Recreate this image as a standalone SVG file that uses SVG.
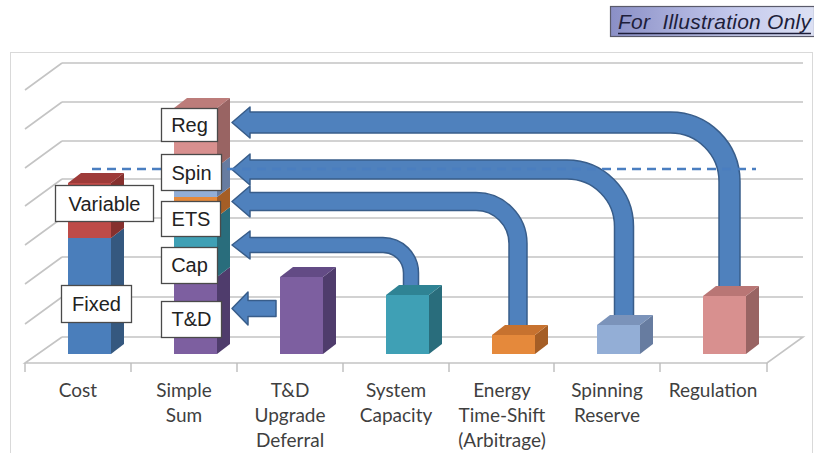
<svg xmlns="http://www.w3.org/2000/svg" width="814" height="453" viewBox="0 0 814 453">
<defs>
<linearGradient id="tagGrad" x1="0" y1="0" x2="1" y2="0">
<stop offset="0" stop-color="#8A8FC6"/>
<stop offset="0.6" stop-color="#C3C8EC"/>
<stop offset="1" stop-color="#DDE1F4"/>
</linearGradient>
</defs>
<style>
.grid{stroke:#C4C4C4;stroke-width:1.6;fill:none}
.tick{stroke:#BDBDBD;stroke-width:1.4}
.arrow{fill:#4F81BD;stroke:#385D8A;stroke-width:1.5;stroke-linejoin:round}
.box{fill:#FFFFFF;stroke:#4A4A4A;stroke-width:1.3}
.btxt{font-family:"Liberation Sans",Arial,sans-serif;font-size:20px;fill:#222;text-anchor:middle}
.ax{font-family:Lato,"Liberation Sans",sans-serif;font-size:19px;fill:#3F3F3F;text-anchor:middle}
.dash{stroke:#4A7EC0;stroke-width:2.4;stroke-dasharray:9 6;fill:none}
</style>
<rect x="0" y="0" width="814" height="453" fill="#FFFFFF"/>
<g id="tag">
<rect x="610.5" y="6.5" width="204" height="30" fill="url(#tagGrad)" stroke="#5A5A6A" stroke-width="1.2"/>
<text x="618" y="29" font-family="'Liberation Sans',Arial,sans-serif" font-style="italic" font-size="21" fill="#1E1E3A" xml:space="preserve" textLength="193">For  Illustration Only</text>
<line x1="618" y1="33.5" x2="811" y2="33.5" stroke="#1E1E3A" stroke-width="1.4"/>
</g>
<rect x="10.5" y="52.5" width="802" height="420" fill="#FFFFFF" stroke="#D9D9D9" stroke-width="1"/>
<g id="grid">
<path class="grid" d="M62,63H803M25,90L62,63M62,102H803M25,129L62,102M62,141H803M25,168L62,141M62,179H803M25,206L62,179M62,218H803M25,245L62,218M62,257H803M25,284L62,257M62,297H803M25,324L62,297"/>
<path class="grid" d="M62,337H803L767,363H25L62,337"/>
<path class="tick" d="M25,363V372M131,363V372M237,363V372M343,363V372M449,363V372M554,363V372M660,363V372M767,363V372"/>
</g>
<g id="connectors">
<path class="arrow" d="M232,122.5 L250,107 L250,112 L670.5,112 A69.5,69.5 0 0 1 740,181.5 L740,289 L719,289 L719,181.5 A48.5,48.5 0 0 0 670.5,133 L250,133 L250,138 Z"/>
<path class="arrow" d="M232,169.5 L250,154 L250,160 L567,160 A66.5,66.5 0 0 1 633.5,226.5 L633.5,318 L614.5,318 L614.5,226.5 A47.5,47.5 0 0 0 567,179 L250,179 L250,185 Z"/>
<path class="arrow" d="M232,201.5 L250,186 L250,192.5 L476,192.5 A51,51 0 0 1 527,243.5 L527,327 L509,327 L509,243.5 A33,33 0 0 0 476,210.5 L250,210.5 L250,217 Z"/>
<path class="arrow" d="M232,245 L250,231 L250,237.5 L383,237.5 A35.5,35.5 0 0 1 418.5,273 L418.5,288 L403.5,288 L403.5,273 A20.5,20.5 0 0 0 383,252.5 L250,252.5 L250,259 Z"/>
<path class="arrow" d="M232,308.5 L248,292 L248,300.5 L276,300.5 L276,316.5 L248,316.5 L248,325 Z"/>
</g>
<g id="bar-cost">
<rect x="68" y="238" width="43" height="116" fill="#4A7EBB"/>
<polygon points="111,238 124,228 124,344 111,354" fill="#35587F"/>
<rect x="68" y="183" width="43" height="55" fill="#BE4B48"/>
<polygon points="111,183 124,173 124,228 111,238" fill="#86302E"/>
<polygon points="68,183 81,173 124,173 111,183" fill="#9E3B39"/>
</g>
<g id="bar-simple-sum">
<rect x="174" y="277" width="43" height="77" fill="#7D5FA0"/>
<polygon points="217,277 230,267 230,344 217,354" fill="#4F3C6C"/>
<rect x="174" y="217" width="43" height="60" fill="#3FA0B5"/>
<polygon points="217,217 230,207 230,267 217,277" fill="#296D7C"/>
<rect x="174" y="197" width="43" height="20" fill="#E5893B"/>
<polygon points="217,197 230,187 230,207 217,217" fill="#A55E26"/>
<rect x="174" y="167" width="43" height="30" fill="#93AED6"/>
<polygon points="217,167 230,157 230,187 217,197" fill="#677CA0"/>
<rect x="174" y="108" width="43" height="59" fill="#D8908F"/>
<polygon points="217,108 230,98 230,157 217,167" fill="#996463"/>
<polygon points="174,108 187,98 230,98 217,108" fill="#BC7C7A"/>
</g>
<g id="bar-td">
<rect x="280" y="277" width="43" height="77" fill="#7D5FA0"/>
<polygon points="323,277 336,267 336,344 323,354" fill="#4F3C6C"/>
<polygon points="280,277 293,267 336,267 323,277" fill="#634B85"/>
</g>
<g id="bar-cap">
<rect x="386" y="295" width="43" height="59" fill="#3FA0B5"/>
<polygon points="429,295 442,285 442,344 429,354" fill="#296D7C"/>
<polygon points="386,295 399,285 442,285 429,295" fill="#2F8394"/>
</g>
<g id="bar-ets">
<rect x="492" y="335" width="43" height="19" fill="#E5893B"/>
<polygon points="535,335 548,325 548,344 535,354" fill="#A55E26"/>
<polygon points="492,335 505,325 548,325 535,335" fill="#C7722F"/>
</g>
<g id="bar-spin">
<rect x="597" y="325" width="43" height="29" fill="#93AED6"/>
<polygon points="640,325 653,315 653,344 640,354" fill="#677CA0"/>
<polygon points="597,325 610,315 653,315 640,325" fill="#7B93BA"/>
</g>
<g id="bar-reg">
<rect x="703" y="296" width="43" height="58" fill="#D8908F"/>
<polygon points="746,296 759,286 759,344 746,354" fill="#996463"/>
<polygon points="703,296 716,286 759,286 746,296" fill="#B97675"/>
</g>
<path class="dash" d="M92,169H756"/>
<g id="lbl-variable"><rect class="box" x="55.5" y="185.5" width="98" height="36"/><text class="btxt" x="104.5" y="210.5">Variable</text></g>
<g id="lbl-fixed"><rect class="box" x="61.5" y="285.5" width="70" height="37"/><text class="btxt" x="96.5" y="311">Fixed</text></g>
<g id="lbl-reg"><rect class="box" x="161.5" y="108.5" width="56" height="33"/><text class="btxt" x="189.5" y="132">Reg</text></g>
<g id="lbl-spin"><rect class="box" x="161.5" y="154.5" width="60" height="36"/><text class="btxt" x="191.5" y="179.5">Spin</text></g>
<g id="lbl-ets"><rect class="box" x="161.5" y="201.5" width="59" height="35"/><text class="btxt" x="191" y="226">ETS</text></g>
<g id="lbl-cap"><rect class="box" x="161.5" y="247.5" width="56" height="36"/><text class="btxt" x="189.5" y="272">Cap</text></g>
<g id="lbl-td"><rect class="box" x="161.5" y="301.5" width="60" height="36"/><text class="btxt" x="191.5" y="326">T&amp;D</text></g>
<g id="axis-labels">
<text class="ax" x="78" y="397">Cost</text>
<text class="ax" x="184" y="397">Simple</text>
<text class="ax" x="184" y="422">Sum</text>
<text class="ax" x="290" y="397">T&amp;D</text>
<text class="ax" x="290" y="422">Upgrade</text>
<text class="ax" x="290" y="447">Deferral</text>
<text class="ax" x="396" y="397">System</text>
<text class="ax" x="396" y="422">Capacity</text>
<text class="ax" x="502" y="397">Energy</text>
<text class="ax" x="502" y="422">Time-Shift</text>
<text class="ax" x="502" y="447">(Arbitrage)</text>
<text class="ax" x="607" y="397">Spinning</text>
<text class="ax" x="607" y="422">Reserve</text>
<text class="ax" x="713" y="397">Regulation</text>
</g>
</svg>
